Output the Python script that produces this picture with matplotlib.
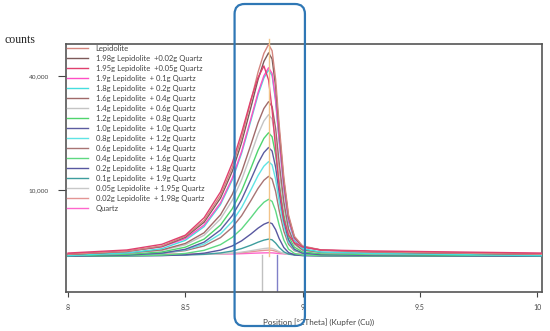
import matplotlib.pyplot as plt
import numpy as np
from matplotlib.patches import FancyBboxPatch

two_theta = [8.00, 8.25, 8.40, 8.50, 8.58, 8.65, 8.70, 8.74, 8.78, 8.81, 8.835,
             8.855, 8.87, 8.885, 8.90, 8.92, 8.94, 8.965, 9.00, 9.08, 9.30, 10.02]

# counts per sample
lep = [1950, 2200, 2650, 3590, 5440, 9170, 14400, 21370, 31830, 41290, 48260,
       51750, 49260, 38800, 24860, 12410, 6180, 3590, 2650, 2300, 2150, 1950]
l198 = [1950, 2180, 2600, 3490, 5210, 8690, 13580, 20090, 29850, 38690, 45200,
        48450, 46130, 36360, 23340, 11720, 5900, 3490, 2600, 2280, 2140, 1950]
l195 = [2050, 2300, 2800, 3710, 5790, 9730, 15330, 22590, 32220, 39400, 43550,
        38570, 29030, 18650, 10770, 5580, 3710, 2960, 2550, 2300, 2220, 2050]
l190 = [2000, 2200, 2570, 3350, 4860, 7930, 12230, 17950, 26540, 34310, 40040,
        42900, 40860, 32270, 20810, 10590, 5480, 3350, 2570, 2290, 2160, 2000]
l180 = [1850, 2050, 2410, 3180, 4670, 7690, 11910, 17550, 26000, 33650, 39280,
        42100, 40090, 31640, 20370, 10300, 5270, 3180, 2410, 2130, 2010, 1850]
l160 = [1900, 2050, 2310, 2880, 3970, 6190, 9300, 13440, 19660, 25280, 29430,
        31500, 30020, 23800, 15520, 8120, 4420, 2880, 2310, 2110, 2020, 1900]
l140 = [1900, 2030, 2260, 2750, 3700, 5630, 8330, 11920, 17320, 22200, 25800,
        27600, 26320, 20920, 13720, 7300, 4080, 2750, 2260, 2080, 2000, 1900]
l120 = [1850, 1950, 2140, 2540, 3300, 4860, 7040, 9940, 14300, 18240, 21150,
        22600, 21560, 17210, 11400, 6210, 3610, 2540, 2140, 2000, 1930, 1850]
l100 = [1800, 1890, 2040, 2360, 3000, 4280, 6080, 8470, 12060, 15310, 17700,
        18900, 18050, 14450, 9670, 5390, 3250, 2360, 2040, 1920, 1870, 1800]
l080 = [1850, 1920, 2040, 2310, 2820, 3850, 5300, 7230, 10130, 12750, 14680,
        15650, 14960, 12060, 8200, 4750, 3020, 2310, 2040, 1950, 1910, 1850]
l060 = [1900, 1950, 2050, 2250, 2650, 3450, 4580, 6070, 8320, 10350, 11850,
        12600, 12070, 9820, 6820, 4150, 2810, 2250, 2050, 1980, 1940, 1900]
l040 = [1800, 1830, 1890, 2020, 2270, 2770, 3480, 4410, 5820, 7090, 8030,
        8500, 8170, 6760, 4880, 3210, 2370, 2020, 1890, 1850, 1830, 1800]
l020 = [1800, 1820, 1850, 1910, 2040, 2290, 2650, 3130, 3840, 4490, 4960,
        5200, 5030, 4320, 3360, 2510, 2090, 1910, 1850, 1820, 1810, 1800]
l010 = [1850, 1860, 1870, 1900, 1950, 2060, 2210, 2420, 2720, 3000, 3200,
        3300, 3230, 2920, 2520, 2150, 1970, 1900, 1870, 1860, 1860, 1850]
l005 = [1900, 1900, 1910, 1920, 1940, 1980, 2040, 2120, 2240, 2340, 2420,
        2460, 2430, 2310, 2160, 2020, 1950, 1920, 1910, 1900, 1900, 1900]
l002 = [1950, 1950, 1955, 1960, 1975, 2000, 2035, 2080, 2155, 2220, 2265,
        2290, 2275, 2200, 2105, 2020, 1980, 1960, 1955, 1950, 1950, 1950]
quartz = [1950, 1950, 1950, 1955, 1960, 1970, 1980, 2000, 2030, 2050, 2065,
          2070, 2065, 2040, 2010, 1985, 1970, 1960, 1955, 1950, 1950, 1950]

series = [lep, l198, l195, l190, l180, l160, l140, l120, l100, l080,
          l060, l040, l020, l010, l005, l002, quartz]

labels = ["Lepidolite",
          "1.98g Lepidolite  +0.02g Quartz",
          "1.95g Lepidolite  +0.05g Quartz",
          "1.9g Lepidolite  + 0.1g Quartz",
          "1.8g Lepidolite  + 0.2g Quartz",
          "1.6g Lepidolite  + 0.4g Quartz",
          "1.4g Lepidolite  + 0.6g Quartz",
          "1.2g Lepidolite  + 0.8g Quartz",
          "1.0g Lepidolite  + 1.0g Quartz",
          "0.8g Lepidolite  + 1.2g Quartz",
          "0.6g Lepidolite  + 1.4g Quartz",
          "0.4g Lepidolite  + 1.6g Quartz",
          "0.2g Lepidolite  + 1.8g Quartz",
          "0.1g Lepidolite  + 1.9g Quartz",
          "0.05g Lepidolite  + 1.95g Quartz",
          "0.02g Lepidolite  + 1.98g Quartz",
          "Quartz"]

colors = ["#d4857f", "#7d5a5a", "#e0406e", "#ff4fc4", "#45dede", "#a06a6a",
          "#c4c4c4", "#4fd46e", "#5c5ca0", "#5fe4e4", "#a87474", "#5ed882",
          "#5858a0", "#3e9e9e", "#c8c8c8", "#e49494", "#ff66cc"]

# reference lines
ref_top = 8.857          # orange marker line
ref_sticks = [8.827, 8.891]
stick_colors = ["#c0c0c0", "#8080c8"]

fig = plt.figure(figsize=(5.5, 3.31), dpi=100)
ax = fig.add_axes([0.1195, 0.118, 0.866, 0.749])

ax.set_yscale('function', functions=(lambda v: np.sqrt(np.clip(v, 0, None)), np.square))

for i, (s, lab, c) in enumerate(zip(series, labels, colors)):
    z = 3 + (17 - i) * 0.1
    if i == 2:
        z = 6
    ax.plot(two_theta, s, color=c, lw=1.0, label=lab, zorder=z)

ax.plot([ref_top, ref_top], [1800, 54000], color="#f2c48a", lw=1.0, zorder=7, clip_on=False)
for xs, c in zip(ref_sticks, stick_colors):
    ax.plot([xs, xs], [1900, 100], color=c, lw=1.0, zorder=2)

ax.set_xlim(7.99, 10.021)
ax.set_ylim(128, 51900)
ax.set_xticks([8, 8.5, 9, 9.5, 10])
ax.set_xticklabels(["8", "8.5", "9", "9.5", "10"])
ax.set_yticks([10000, 40000])
ax.set_yticklabels(["10,000", "40,000"])
ax.minorticks_off()
ax.tick_params(axis='y', length=6, width=0.8, pad=6, labelsize=4.6, colors="#444444")
ax.tick_params(axis='x', length=3.5, width=0.8, pad=5, labelsize=5.0, colors="#444444")
for sp in ax.spines.values():
    sp.set_color("#555555")
    sp.set_linewidth(1.2)

ax.set_xlabel("Position [°2Theta] (Kupfer (Cu))", fontsize=5.8, color="#444444",
              family="Lato")
ax.xaxis.set_label_coords(0.531, -0.105)
for t in ax.get_xticklabels() + ax.get_yticklabels():
    t.set_family("Lato")

fig.text(0.009, 0.88, "counts", fontsize=8.5, family="Liberation Serif",
         color="#222222", va="center")

leg = ax.legend(loc="upper left", frameon=False, labelspacing=0.39,
                handlelength=2.8, handletextpad=0.95, borderaxespad=0.05,
                borderpad=0.1, prop={"family": "Lato", "size": 5.5})
for t in leg.get_texts():
    t.set_color("#444444")

# blue rounded highlight box around the peak region
fig.canvas.draw()
x0 = ax.transData.transform((8.71, 1000))[0]
x1 = ax.transData.transform((9.01, 1000))[0]
over = fig.add_axes([0, 0, 1, 1], zorder=10)
over.set_xlim(0, 550)
over.set_ylim(0, 331)
over.axis("off")
over.patch.set_alpha(0)
box = FancyBboxPatch((x0, 5), x1 - x0, 322, boxstyle="round,pad=0,rounding_size=10",
                     fill=False, edgecolor="#2f77b5", lw=1.6)
over.add_patch(box)

fig.savefig("out.png", dpi=100)
